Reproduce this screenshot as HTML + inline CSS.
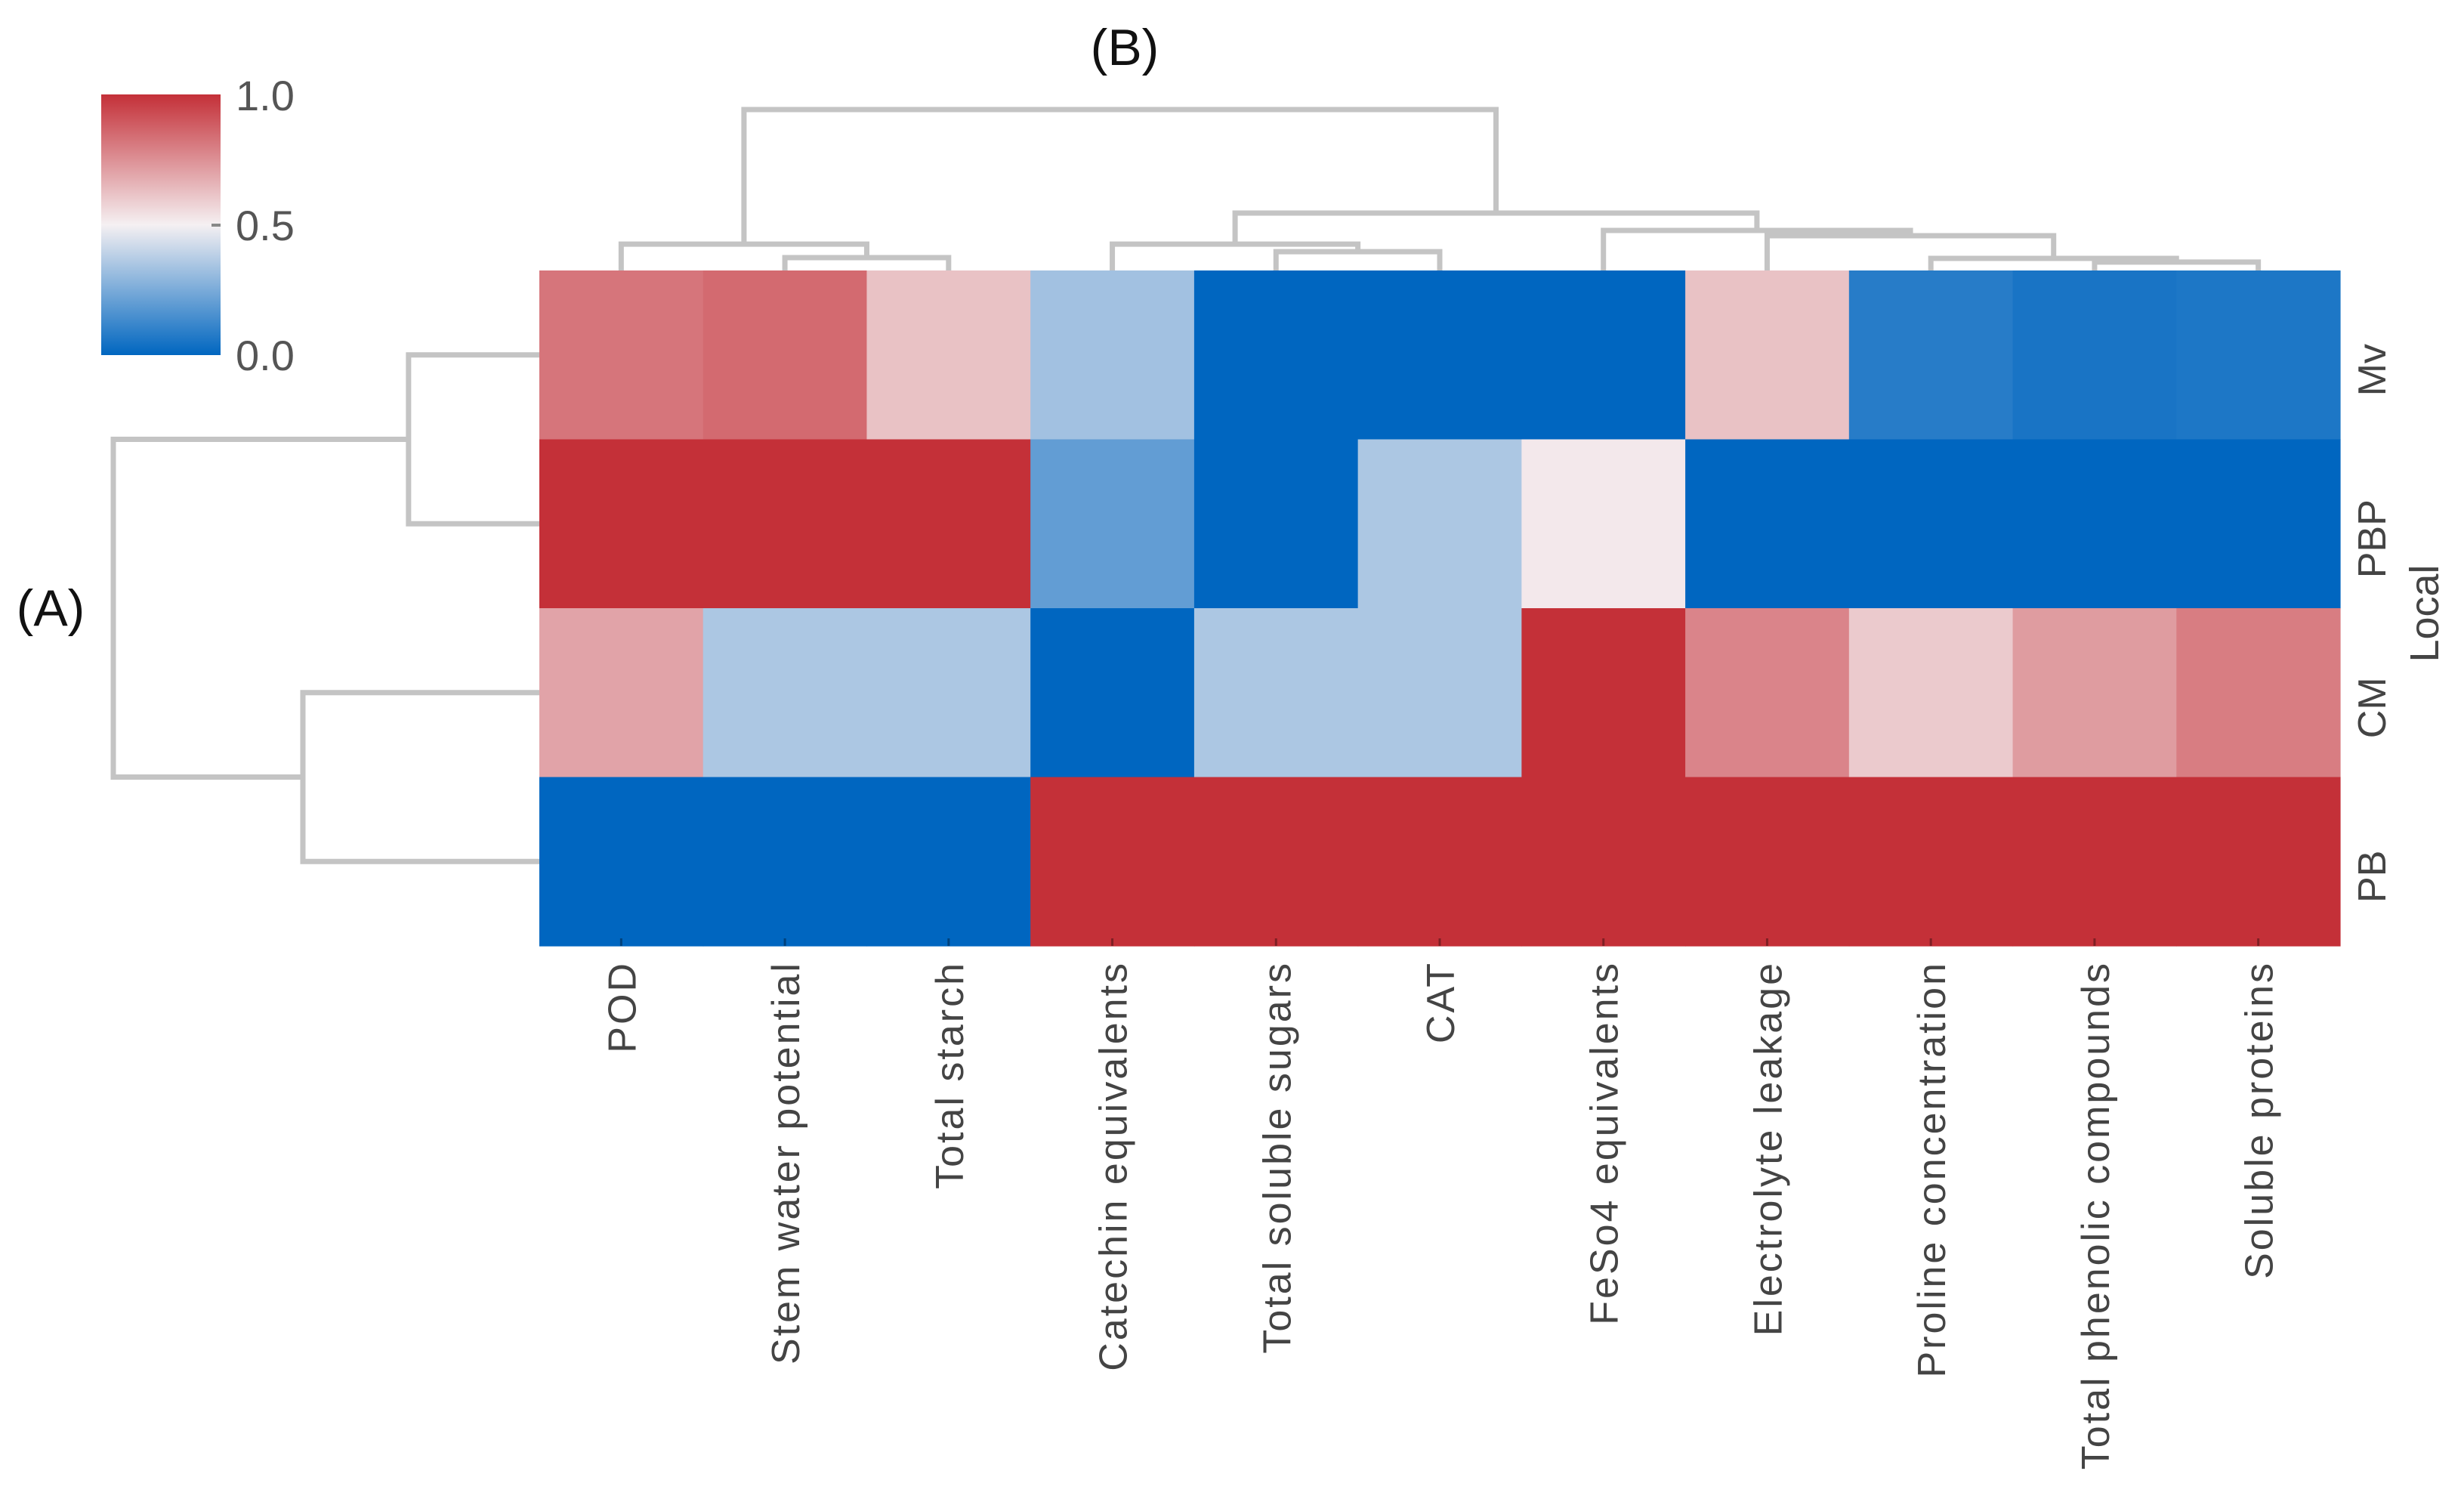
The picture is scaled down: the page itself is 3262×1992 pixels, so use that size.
<!DOCTYPE html>
<html><head><meta charset="utf-8"><style>
html,body{margin:0;padding:0;background:#fff;}
svg{display:block;font-family:"Liberation Sans",sans-serif;}
</style></head><body>
<svg id="chart" width="3262" height="1992" viewBox="0 0 3262 1992" xmlns="http://www.w3.org/2000/svg">
<defs>
<linearGradient id="cbg" x1="0" y1="1" x2="0" y2="0">
<stop offset="0" stop-color="rgb(0,102,192)"/>
<stop offset="0.5" stop-color="rgb(245,240,242)"/>
<stop offset="1" stop-color="rgb(196,48,56)"/>
</linearGradient>
</defs>
<rect x="0" y="0" width="3262" height="1992" fill="#fff"/>
<g id="cbar">
<rect x="134" y="125" width="158" height="345" fill="url(#cbg)"/>
<text x="312" y="146" font-size="56" fill="#555">1.0</text>
<text x="312" y="318" font-size="56" fill="#555">0.5</text>
<line x1="280" y1="298" x2="292" y2="298" stroke="#888" stroke-width="4"/>
<text x="312" y="490" font-size="56" fill="#555">0.0</text>
</g>
<text x="1489" y="86" font-size="68" text-anchor="middle" fill="#111">(B)</text>
<text x="67" y="828" font-size="68" text-anchor="middle" fill="#111">(A)</text>
<g id="cells"></g>
<g id="coldendro"></g>
<g id="rowdendro"></g>
<g id="collabels"></g>
<g id="rowlabels"></g>
<text transform="translate(3228,812) rotate(-90)" font-size="54" text-anchor="middle" fill="#444">Local</text>
</svg>
<script>
const columns = ["POD","Stem water potential","Total starch","Catechin equivalents","Total soluble sugars","CAT","FeSo4 equivalents","Electrolyte leakage","Proline concentration","Total phenolic compounds","Soluble proteins"];
const rows = ["Mv","PBP","CM","PB"];
const rowMv  = [0.82,0.85,0.62,0.33,0,0,0,0.62,0.08,0.05,0.06];
const rowPBP = [1,1,1,0.2,0,0.35,0.52,0,0,0,0];
const rowCM  = [0.7,0.35,0.35,0,0.35,0.35,1,0.78,0.6,0.72,0.8];
const rowPB  = [0,0,0,1,1,1,1,1,1,1,1];
const colLinkage = [[1,2,0.08],[0,11,0.164],[4,5,0.117],[3,13,0.164],[9,10,0.052],[8,15,0.075],[7,16,0.216],[6,17,0.249],[14,18,0.357],[12,19,1.0]];
const rowLinkage = [[0,1,0.307],[2,3,0.555],[4,5,1.0]];

const NS="http://www.w3.org/2000/svg";
const values=[rowMv,rowPBP,rowCM,rowPB];
const X0=714,X1=3098,Y0=358,Y1=1252;
const cw=(X1-X0)/columns.length, rh=(Y1-Y0)/rows.length;
const xCol=i=>X0+i*cw, yRow=j=>Y0+j*rh;
const colDendY=h=>Y0-h*213;
const rowDendX=h=>X0-h*564;
function cmap(v){
  const b=[0,102,192],w=[245,240,242],r=[196,48,56];
  let a,c,t;
  if(v<=0.5){a=b;c=w;t=v/0.5;}else{a=w;c=r;t=(v-0.5)/0.5;}
  return "rgb("+a.map((x,k)=>Math.round(x+(c[k]-x)*t)).join(",")+")";
}
function mk(tag,attrs,parent){const e=document.createElementNS(NS,tag);for(const k in attrs)e.setAttribute(k,attrs[k]);parent.appendChild(e);return e;}
const gc=document.getElementById('cells');
values.forEach((row,j)=>row.forEach((v,i)=>{
  const r=mk('rect',{x:xCol(i),y:yRow(j),width:cw+0.6,height:rh+0.6,fill:cmap(v)},gc);
  
  
}));
const gl=document.getElementById('collabels');
columns.forEach((c,i)=>{
  const cx=xCol(i)+cw/2;
  const t=mk('text',{transform:'translate('+(cx+19)+',1272) rotate(-90)','font-size':52,'letter-spacing':3,'text-anchor':'end',fill:'#444'},gl);
  t.textContent=c;
  
  
  const tk=mk('line',{x1:cx,y1:Y1-10,x2:cx,y2:Y1,stroke:'rgba(0,0,0,0.35)','stroke-width':3},gl);
  
  
});
const gr=document.getElementById('rowlabels');
rows.forEach((r,j)=>{
  const cy=yRow(j)+rh/2;
  const t=mk('text',{transform:'translate(3158,'+(cy+20)+') rotate(-90)','font-size':52,'text-anchor':'middle',fill:'#444'},gr);
  t.textContent=r;
  
  
});
function dendro(link,n,pos,gid,vertical,hmap,base,name){
  const g=document.getElementById(gid);
  const P=[],H=[];
  for(let i=0;i<n;i++){P.push(pos(i));H.push(0);}
  link.forEach((l,k)=>{
    const a=l[0],b=l[1],h=hmap(l[2]);
    const ha=H[a]===0?base:hmap(H[a]), hb=H[b]===0?base:hmap(H[b]);
    let d;
    if(vertical) d='M'+P[a]+','+ha+' V'+h+' H'+P[b]+' V'+hb;
    else d='M'+ha+','+P[a]+' H'+h+' V'+P[b]+' H'+hb;
    const p=mk('path',{d:d,fill:'none',stroke:'#c4c4c4','stroke-width':7},g);
    
    
    P.push((P[a]+P[b])/2);H.push(l[2]);
  });
}
dendro(colLinkage,columns.length,i=>xCol(i)+cw/2,'coldendro',true,colDendY,Y0,'column-dendrogram');
dendro(rowLinkage,rows.length,j=>yRow(j)+rh/2,'rowdendro',false,rowDendX,X0,'row-dendrogram');
</script>
</body></html>
